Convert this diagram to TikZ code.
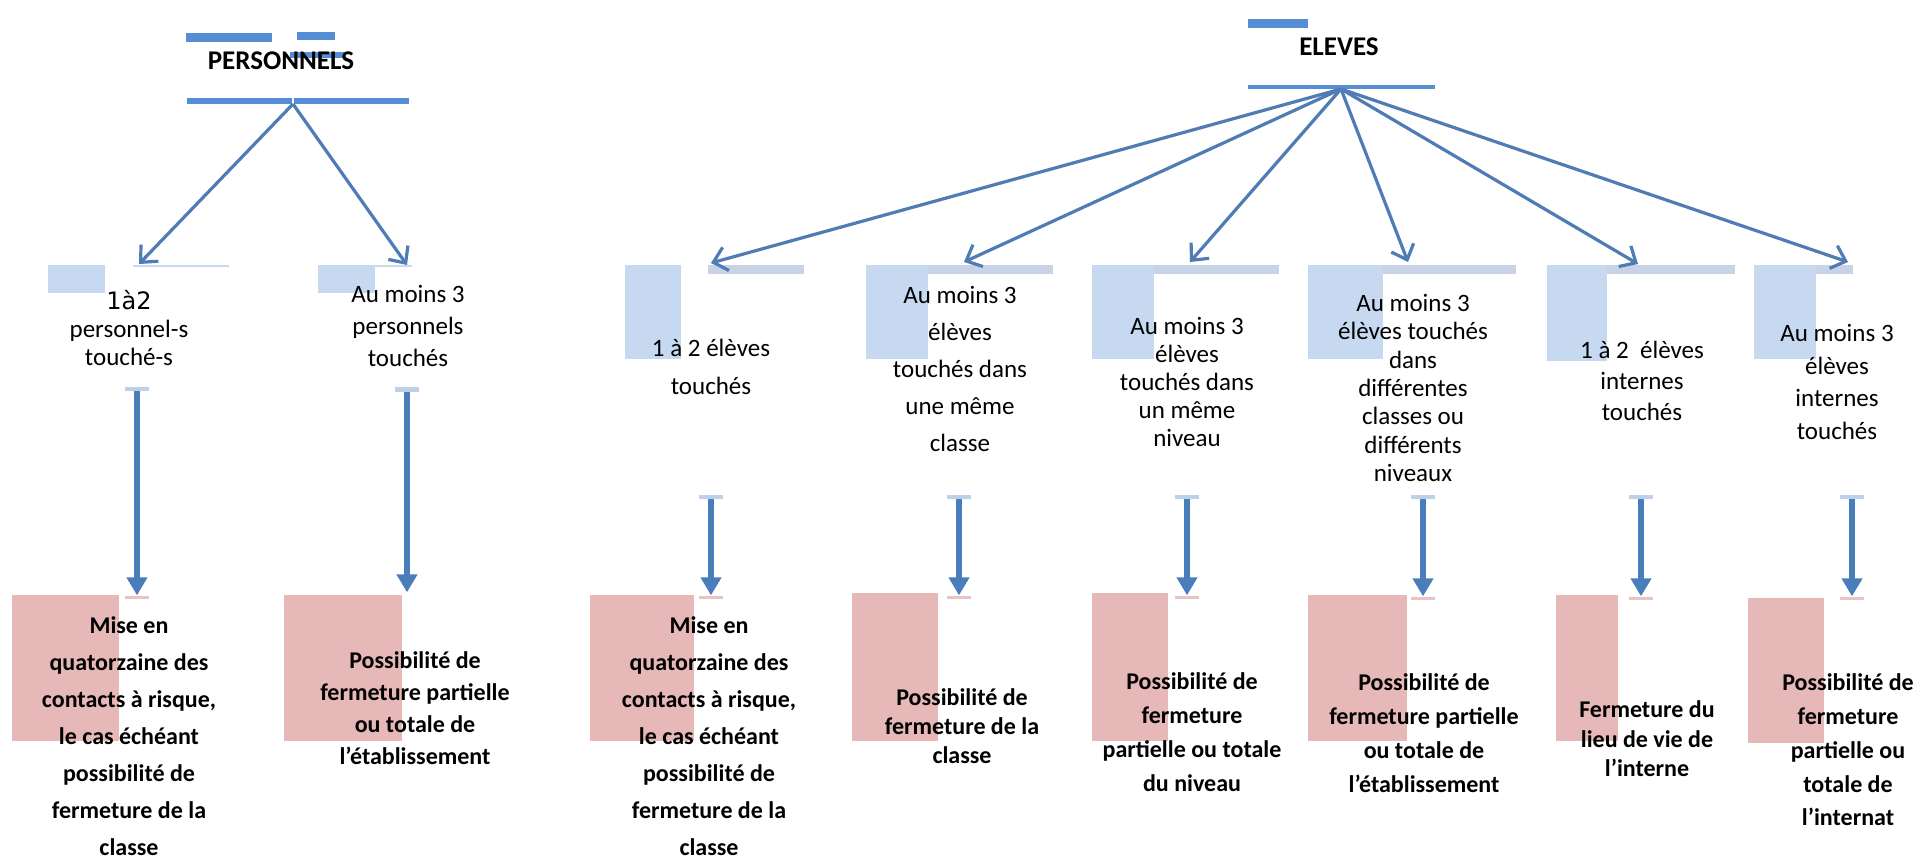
\documentclass[tikz,border=0pt]{standalone}
\usepackage{fontspec}
\setmainfont{Carlito}
\newfontfamily\djv{DejaVu Sans}
\usetikzlibrary{arrows.meta}
\definecolor{barblue}{HTML}{558ED5}
\definecolor{arrblue}{HTML}{4A7EBB}
\definecolor{diagblue}{HTML}{4F7CB4}
\definecolor{lightbox}{HTML}{C6D9F1}
\definecolor{bandcol}{HTML}{C8D3E8}
\definecolor{pinkbox}{HTML}{E6B8B7}
\definecolor{capblue}{HTML}{BDD0EA}
\definecolor{cappink}{HTML}{E8C4C4}
\begin{document}
\begin{tikzpicture}[x=1pt,y=-1pt,
  bar/.style={fill=barblue,draw=none},
  lbox/.style={fill=lightbox,draw=none},
  band/.style={fill=bandcol,draw=none},
  pbox/.style={fill=pinkbox,draw=none},
  cond/.style={align=center,inner sep=0,font=\fontsize{25}{#1}\selectfont},
  res/.style={align=center,inner sep=0,font=\bfseries\fontsize{24}{#1}\selectfont},
  ttl/.style={inner sep=0,font=\bfseries\fontsize{27}{32}\selectfont},
  diag/.style={draw=diagblue,line width=3.2pt,-{Straight Barb[length=13pt,width=24pt]}},
  vert/.style={draw=arrblue,line width=6.5pt,-{Triangle[length=18pt,width=20pt]}},
  topcap/.style={fill=capblue,draw=none,minimum width=24pt,minimum height=4pt,inner sep=0},
  botcap/.style={fill=cappink,draw=none,minimum width=24pt,minimum height=3pt,inner sep=0},
]
\fill[white] (0,0) rectangle (1921,859);
\useasboundingbox (0,0) rectangle (1921,859);

% ---------------- PERSONNELS ----------------
\fill[bar] (186,33) rectangle (272,42);
\fill[bar] (297,32) rectangle (335,40);
\fill[bar] (290,52) rectangle (345,58);
\node[ttl] (pers) at (281,61) {PERSONNELS};
\fill[bar] (187,98) rectangle (292,104);
\fill[bar] (294,98) rectangle (409,104);
\coordinate (phub) at (293,104);

\fill[lbox] (48,265) rectangle (105,293);
\fill[lbox] (318,265) rectangle (375,293);
\fill[lbox] (133,265) rectangle (229,267);
\fill[lbox] (318,265) rectangle (412,267);
\coordinate (pt1) at (139,264);
\coordinate (pt2) at (407,265);
\draw[diag] (phub) -- (pt1);
\draw[diag] (phub) -- (pt2);

\node[cond=28] (p1) at (129,328) {{\djv\fontsize{24}{28}\selectfont 1à2}\\personnel-s\\touché-s};
\node[cond=32] (p2) at (408,326) {Au moins 3\\personnels\\touchés};

\fill[pbox] (12,595) rectangle (119,741);
\fill[pbox] (284,595) rectangle (402,741);

\node[topcap] (pc1) at (137,389) {};
\node[topcap,minimum height=5pt] (pc2) at (407,389) {};
\node[botcap] (pb1) at (137,597) {};
\node[botcap,draw=none,fill=none] (pb2) at (407,594) {};
\draw[vert] (pc1.south) -- (pb1.north);
\draw[vert] (pc2.south) -- (pb2.north);

\node[res=37] (p3) at (129,736) {Mise en\\quatorzaine des\\contacts à risque,\\le cas échéant\\possibilité de\\fermeture de la\\classe};
\node[res=32] (p4) at (415,708) {Possibilité de\\fermeture partielle\\ou totale de\\l’établissement};

% ---------------- ELEVES ----------------
\fill[bar] (1248,19) rectangle (1308,28);
\node[ttl] (elev) at (1339,47) {ELEVES};
\fill[bar] (1248,85) rectangle (1435,89);
\coordinate (ehub) at (1341,89);

\fill[band] (708,265) rectangle (804,274);
\fill[band] (866,265) rectangle (1053,274);
\fill[band] (1092,265) rectangle (1279,274);
\fill[band] (1308,265) rectangle (1516,274);
\fill[band] (1547,265) rectangle (1735,274);
\fill[band] (1754,265) rectangle (1853,274);

\fill[lbox] (625,265) rectangle (681,359);
\fill[lbox] (866,265) rectangle (928,359);
\fill[lbox] (1092,265) rectangle (1154,359);
\fill[lbox] (1308,265) rectangle (1383,359);
\fill[lbox] (1547,265) rectangle (1607,361);
\fill[lbox] (1754,265) rectangle (1816,359);

\coordinate (et1) at (711,263);
\coordinate (et2) at (964,262);
\coordinate (et3) at (1190,262);
\coordinate (et4) at (1408,262);
\coordinate (et5) at (1638,264);
\coordinate (et6) at (1848,262);
\foreach \t in {et1,et2,et3,et4,et5,et6} \draw[diag] (ehub) -- (\t);

\node[cond=38] (e1) at (711,367) {1 à 2 élèves\\touchés};
\node[cond=37] (e2) at (960,369) {Au moins 3\\élèves\\touchés dans\\une même\\classe};
\node[cond=28] (e3) at (1187,382) {Au moins 3\\élèves\\touchés dans\\un même\\niveau};
\node[cond=28.3] (e4) at (1413,388) {Au moins 3\\élèves touchés\\dans\\différentes\\classes ou\\différents\\niveaux};
\node[cond=31] (e5) at (1642,381) {1 à 2~ élèves\\internes\\touchés};
\node[cond=32.7] (e6) at (1837,382) {Au moins 3\\élèves\\internes\\touchés};

\fill[pbox] (590,595) rectangle (694,741);
\fill[pbox] (852,593) rectangle (938,741);
\fill[pbox] (1092,593) rectangle (1168,741);
\fill[pbox] (1308,595) rectangle (1407,741);
\fill[pbox] (1556,595) rectangle (1618,741);
\fill[pbox] (1748,598) rectangle (1824,743);

\node[topcap] (ec1) at (711,497) {};
\node[topcap] (ec2) at (959,497) {};
\node[topcap] (ec3) at (1187,497) {};
\node[topcap] (ec4) at (1423,497) {};
\node[topcap] (ec5) at (1641,497) {};
\node[topcap] (ec6) at (1852,497) {};
\node[botcap] (eb1) at (711,597) {};
\node[botcap] (eb2) at (959,597) {};
\node[botcap] (eb3) at (1187,597) {};
\node[botcap] (eb4) at (1423,598) {};
\node[botcap] (eb5) at (1641,598) {};
\node[botcap] (eb6) at (1852,598) {};
\foreach \i in {1,...,6} \draw[vert] (ec\i.south) -- (eb\i.north);

\node[res=37] (b1) at (709,736) {Mise en\\quatorzaine des\\contacts à risque,\\le cas échéant\\possibilité de\\fermeture de la\\classe};
\node[res=29] (b2) at (962,726) {Possibilité de\\fermeture de la\\classe};
\node[res=34] (b3) at (1192,732) {Possibilité de\\fermeture\\partielle ou totale\\du niveau};
\node[res=34] (b4) at (1424,733) {Possibilité de\\fermeture partielle\\ou totale de\\l’établissement};
\node[res=29.5] (b5) at (1647,739) {Fermeture du\\lieu de vie de\\l’interne};
\node[res=33.75] (b6) at (1848,750) {Possibilité de\\fermeture\\partielle ou\\totale de\\l’internat};
\end{tikzpicture}
\end{document}
